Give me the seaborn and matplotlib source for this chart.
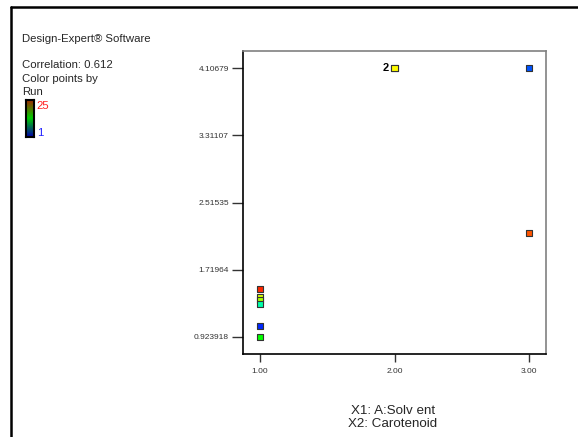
import matplotlib
matplotlib.use("Agg")
import matplotlib.pyplot as plt
import matplotlib.colors as mcolors
from matplotlib.lines import Line2D
import numpy as np
import pandas as pd
import seaborn as sns

# Data
x_solvent = [1.0, 1.0, 1.0, 1.0, 1.0, 1.0, 2.0, 2.0, 3.0, 3.0]
y_carotenoid = [1.486, 1.389, 1.359, 1.312, 1.054, 0.923918, 4.10679, 4.10679, 4.10679, 2.154]
run = [24, 18, 17, 9, 2, 13, 19, 19, 3, 23]
y_ticks = [0.923918, 1.71964, 2.51535, 3.31107, 4.10679]
y_tick_labels = ["0.923918", "1.71964", "2.51535", "3.31107", "4.10679"]
x_ticks = [1.0, 2.0, 3.0]
x_tick_labels = ["1.00", "2.00", "3.00"]

df = pd.DataFrame({"A": x_solvent, "Carotenoid": y_carotenoid, "Run": run})

sns.set_theme(style="white")
plt.rcParams["font.family"] = ["Liberation Sans", "DejaVu Sans"]

cmap = mcolors.LinearSegmentedColormap.from_list(
    "run", ["#0000ff", "#00ffff", "#00ff00", "#ffff00", "#ff0000"])

fig = plt.figure(figsize=(5.78, 4.37), dpi=100)
ax = fig.add_axes([0.420, 0.1906, 0.5246, 0.6927])

sns.scatterplot(data=df, x="A", y="Carotenoid", hue="Run", palette=cmap,
                hue_norm=(1, 25), marker="s", s=20, edgecolor="#333333",
                linewidth=0.8, legend=False, ax=ax, zorder=3)

ax.set_xlim(0.871, 3.126)
ax.set_ylim(0.7223, 4.312)
ax.set_xticks(x_ticks)
ax.set_xticklabels(x_tick_labels)
ax.set_yticks(y_ticks)
ax.set_yticklabels(y_tick_labels)
ax.set_xlabel("")
ax.set_ylabel("")
ax.tick_params(axis="y", direction="out", length=8, width=1, color="#333333",
               labelsize=6, labelcolor="#333333", left=True, pad=2)
ax.tick_params(axis="x", direction="out", length=6, width=1, color="#333333",
               labelsize=6, labelcolor="#333333", bottom=True, pad=4)
for side in ["left", "bottom"]:
    ax.spines[side].set_color("black")
    ax.spines[side].set_linewidth(1.2)
for side in ["top", "right"]:
    ax.spines[side].set_color("#808080")
    ax.spines[side].set_linewidth(1.2)

# count label for overlapping points
ax.annotate("2", xy=(2.0, 4.10679), xytext=(-4, 0), textcoords="offset points",
            ha="right", va="center", fontsize=8, fontweight="bold", color="black")

# Outer frame lines
fig.add_artist(Line2D([11/578, 11/578], [0, 1 - 7/437], color="black", lw=1.8))
fig.add_artist(Line2D([11/578, 1], [1 - 7/437, 1 - 7/437], color="black", lw=1.8))

def fy(py):
    return 1 - py / 437

def fx(px):
    return px / 578

fs = 8.2
fig.text(fx(22.5), fy(39), "Design-Expert® Software", fontsize=fs, va="center", ha="left")
fig.text(fx(22.5), fy(64.5), "Correlation: 0.612", fontsize=fs, va="center", ha="left")
fig.text(fx(22.5), fy(79), "Color points by", fontsize=fs, va="center", ha="left")
fig.text(fx(22.5), fy(92), "Run", fontsize=fs, va="center", ha="left")

# colour bar
cax = fig.add_axes([fx(26), fy(137), fx(34) - fx(26), fy(99.5) - fy(137)])
grad = np.linspace(0, 1, 100).reshape(-1, 1)
cbar_cmap = mcolors.LinearSegmentedColormap.from_list(
    "cb", ["#0000aa", "#00cc00", "#aa2200"])
cax.imshow(grad, aspect="auto", cmap=cbar_cmap, origin="lower")
cax.set_xticks([])
cax.set_yticks([])
for sp in cax.spines.values():
    sp.set_color("black")
    sp.set_linewidth(1.5)
fig.text(fx(36.5), fy(106), "25", fontsize=fs, color="#ff2020", va="center", ha="left")
fig.text(fx(37.5), fy(133), "1", fontsize=fs, color="#2020ff", va="center", ha="left")

fig.text(fx(393), fy(411.5), "X1: A:Solv ent", fontsize=9.6, va="center", ha="center")
fig.text(fx(393), fy(424), "X2: Carotenoid", fontsize=9.6, va="center", ha="center")

fig.savefig("out.png", dpi=100)
